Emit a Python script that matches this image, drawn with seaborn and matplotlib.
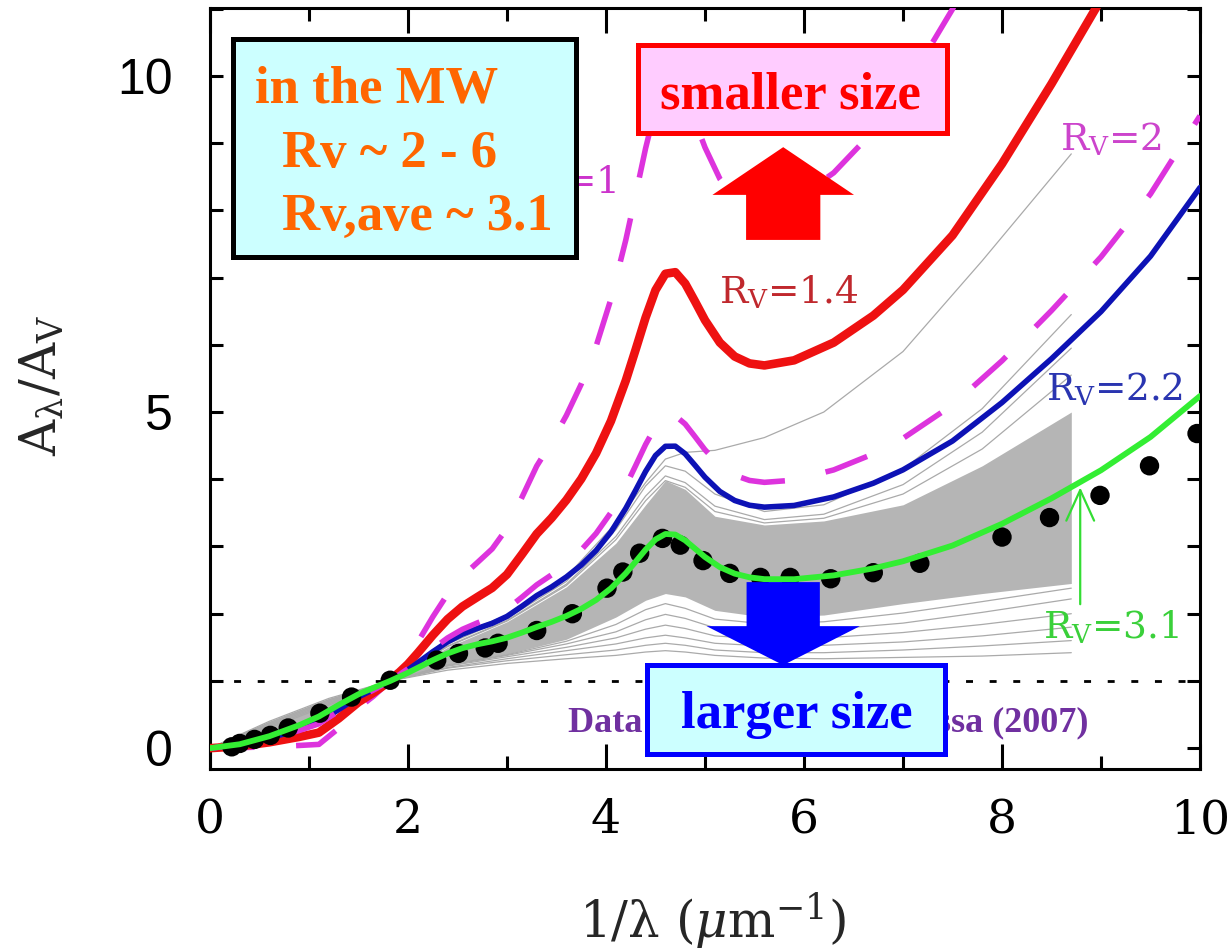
import matplotlib
matplotlib.use("Agg")
import matplotlib.pyplot as plt
import seaborn as sns
from matplotlib.patches import Rectangle, FancyArrow, FancyArrowPatch
from matplotlib.ticker import MultipleLocator, FixedLocator

# ---------------- data ----------------
inv_lambda = [0, 0.3, 0.6, 0.9, 1.1, 1.3, 1.5, 1.65, 1.82, 2.0, 2.1, 2.25, 2.4, 2.55,
              2.7, 2.85, 3.0, 3.15, 3.3, 3.45, 3.6, 3.75, 3.9, 4.05, 4.2, 4.3, 4.4,
              4.5, 4.6, 4.7, 4.8, 4.9, 5.0, 5.15, 5.3, 5.45, 5.6, 5.9, 6.3, 6.7, 7.0,
              7.5, 8.0, 8.5, 9.0, 9.5, 10.0]

rv31 = [0, 0.058, 0.178, 0.341, 0.471, 0.643, 0.802, 0.897, 1.0, 1.122, 1.196, 1.308,
        1.409, 1.488, 1.545, 1.589, 1.643, 1.719, 1.802, 1.878, 1.966, 2.072, 2.205,
        2.378, 2.601, 2.775, 2.953, 3.104, 3.186, 3.177, 3.091, 2.967, 2.843, 2.693,
        2.596, 2.541, 2.514, 2.513, 2.570, 2.674, 2.780, 3.014, 3.337, 3.716, 4.134,
        4.629, 5.238]
rv22 = [0, 0.048, 0.147, 0.282, 0.391, 0.575, 0.762, 0.872, 1.0, 1.166, 1.271, 1.434,
        1.581, 1.697, 1.781, 1.857, 1.960, 2.110, 2.269, 2.398, 2.547, 2.723, 2.940,
        3.216, 3.567, 3.838, 4.116, 4.353, 4.490, 4.492, 4.378, 4.206, 4.030, 3.818,
        3.684, 3.613, 3.585, 3.610, 3.737, 3.941, 4.140, 4.569, 5.141, 5.793, 6.494,
        7.318, 8.339]
rv20 = [0, 0.045, 0.137, 0.262, 0.363, 0.552, 0.748, 0.864, 1.0, 1.181, 1.297, 1.477,
        1.640, 1.768, 1.863, 1.949, 2.069, 2.245, 2.429, 2.578, 2.747, 2.948, 3.194,
        3.505, 3.900, 4.205, 4.517, 4.784, 4.940, 4.945, 4.821, 4.632, 4.438, 4.206,
        4.059, 3.982, 3.954, 3.987, 4.139, 4.377, 4.608, 5.104, 5.762, 6.509, 7.307,
        8.244, 9.407]
rv14 = [0, 0.028, 0.087, 0.167, 0.231, 0.442, 0.684, 0.825, 1.0, 1.251, 1.418, 1.680,
        1.919, 2.107, 2.247, 2.384, 2.584, 2.881, 3.187, 3.423, 3.691, 4.005, 4.387,
        4.866, 5.468, 5.931, 6.405, 6.813, 7.057, 7.080, 6.911, 6.643, 6.366, 6.033,
        5.826, 5.723, 5.693, 5.769, 6.033, 6.434, 6.817, 7.628, 8.692, 9.882, 11.138,
        12.609, 14.442]
rv10 = [0, 0.007, 0.021, 0.040, 0.056, 0.296, 0.598, 0.772, 1.0, 1.345, 1.580, 1.952,
        2.292, 2.558, 2.760, 2.964, 3.270, 3.728, 4.196, 4.550, 4.950, 5.416, 5.979,
        6.681, 7.559, 8.234, 8.923, 9.519, 9.881, 9.927, 9.697, 9.325, 8.936, 8.469,
        8.181, 8.044, 8.012, 8.143, 8.559, 9.176, 9.762, 10.993, 12.598, 14.379,
        16.247, 18.43, 21.155]

# Fitzpatrick & Massa (2007) average points
fm_x = [0.22, 0.30, 0.45, 0.61, 0.79, 1.11, 1.43, 1.82, 2.29, 2.51, 2.78, 2.91, 3.30,
        3.66, 4.01, 4.17, 4.34, 4.57, 4.75, 4.98, 5.25, 5.56, 5.86, 6.27, 6.70, 7.17,
        8.0, 8.48, 8.99, 9.49, 9.97]
fm_y = [0.02, 0.07, 0.13, 0.19, 0.30, 0.52, 0.76, 1.01, 1.31, 1.41, 1.49, 1.56, 1.75,
        2.0, 2.38, 2.62, 2.9, 3.12, 3.02, 2.79, 2.6, 2.54, 2.54, 2.52, 2.61, 2.75,
        3.14, 3.43, 3.76, 4.2, 4.68]

# individual sight lines (grey band)
gx = [0, 0.6, 1.2, 1.82, 2.4, 3.0, 3.6, 4.1, 4.4, 4.6, 4.8, 5.1, 5.6, 6.2, 7.0, 7.8, 8.7]
band_hi = [0, 0.40, 0.74, 1.0, 1.50, 1.88, 2.40, 3.05, 3.62, 3.98, 3.85, 3.45, 3.32,
           3.38, 3.62, 4.20, 5.00]
band_lo = [0, 0.17, 0.50, 1.0, 1.25, 1.40, 1.62, 1.95, 2.20, 2.30, 2.25, 2.05, 1.95,
           1.98, 2.15, 2.30, 2.45]
line_s1 = [0, 0.40, 0.74, 1.0, 1.16, 1.26, 1.33, 1.38, 1.43, 1.45, 1.43, 1.38, 1.34, 1.33, 1.35, 1.37, 1.42]
line_s2 = [0, 0.38, 0.72, 1.0, 1.19, 1.30, 1.39, 1.46, 1.53, 1.56, 1.53, 1.46, 1.42, 1.42, 1.46, 1.52, 1.60]
line_s3 = [0, 0.36, 0.70, 1.0, 1.20, 1.33, 1.45, 1.55, 1.64, 1.68, 1.64, 1.56, 1.52, 1.53, 1.58, 1.67, 1.80]
line_s4 = [0, 0.34, 0.68, 1.0, 1.22, 1.36, 1.50, 1.64, 1.77, 1.83, 1.78, 1.67, 1.62, 1.64, 1.72, 1.84, 2.00]
line_s5 = [0, 0.32, 0.66, 1.0, 1.23, 1.38, 1.55, 1.73, 1.91, 1.99, 1.93, 1.79, 1.73, 1.76, 1.86, 2.02, 2.22]
line_s6 = [0, 0.30, 0.64, 1.0, 1.24, 1.39, 1.59, 1.84, 2.06, 2.15, 2.08, 1.92, 1.85, 1.88, 2.01, 2.18, 2.38]
line_u1 = [0, 0.12, 0.45, 1.0, 1.62, 1.98, 2.55, 3.35, 3.95, 4.30, 4.40, 4.43, 4.62, 5.00, 5.90, 7.25, 8.84]
line_u2 = [0, 0.15, 0.52, 1.0, 1.55, 1.93, 2.48, 3.25, 3.90, 4.20, 4.12, 3.78, 3.52, 3.62, 4.15, 5.05, 6.45]
line_u3 = [0, 0.16, 0.55, 1.0, 1.52, 1.90, 2.44, 3.15, 3.75, 4.05, 3.95, 3.60, 3.40, 3.48, 3.92, 4.70, 5.95]
line_u4 = [0, 0.17, 0.57, 1.0, 1.51, 1.89, 2.42, 3.10, 3.68, 3.98, 3.88, 3.52, 3.35, 3.42, 3.78, 4.45, 5.55]

x_ticks = [0, 2, 4, 6, 8, 10]
y_ticks = [0, 5, 10]

# ---------------- style ----------------
sns.set_style("ticks")
plt.rcParams["font.family"] = ["DejaVu Serif"]
plt.rcParams["mathtext.fontset"] = "dejavuserif"

fig = plt.figure(figsize=(12.3, 9.52), dpi=100)
ax = fig.add_axes([0.17073, 0.19223, 0.80488, 0.79937])

# grey band
ax.fill_between(gx, band_lo, band_hi, color="#b5b5b5", lw=0, zorder=1)
for yy in [line_s1, line_s2, line_s3, line_s4, line_s5, line_s6,
           line_u1, line_u2, line_u3, line_u4]:
    sns.lineplot(x=gx, y=yy, ax=ax, color="#aaaaaa", lw=0.9, zorder=1.5,
                 estimator=None, sort=False)

ax.axhline(1.0, color="black", lw=2.0, ls=(0, (2.5, 6.0)), zorder=2)

dash = (0, (8.0, 7.5))
sns.lineplot(x=inv_lambda, y=rv10, ax=ax, color="#dd33dd", lw=4.0, ls=dash, zorder=3,
             estimator=None, sort=False)
sns.lineplot(x=inv_lambda, y=rv20, ax=ax, color="#dd33dd", lw=4.0, ls=dash, zorder=3.2,
             estimator=None, sort=False)
sns.lineplot(x=inv_lambda, y=rv14, ax=ax, color="#ee1111", lw=6.2, zorder=3.1,
             estimator=None, sort=False)
sns.lineplot(x=inv_lambda, y=rv22, ax=ax, color="#0d12b5", lw=4.0, zorder=3.1,
             estimator=None, sort=False)
sns.scatterplot(x=fm_x, y=fm_y, ax=ax, color="black", s=195, edgecolor="none", zorder=4)
sns.lineplot(x=inv_lambda, y=rv31, ax=ax, color="#33ee33", lw=4.2, zorder=5,
             estimator=None, sort=False)

# axes
ax.set_xlim(0, 10)
ax.set_ylim(-0.31, 11.01)
ax.xaxis.set_major_locator(FixedLocator(x_ticks))
ax.yaxis.set_major_locator(FixedLocator(y_ticks))
ax.xaxis.set_minor_locator(MultipleLocator(1))
ax.yaxis.set_minor_locator(MultipleLocator(1))
ax.set_xticklabels([str(v) for v in x_ticks])
ax.set_yticklabels([str(v) for v in y_ticks])
ax.tick_params(axis="both", which="both", direction="in", top=True, right=True,
               width=2.2, colors="black")
ax.tick_params(axis="x", which="major", length=18, pad=21, labelsize=34)
ax.tick_params(axis="x", which="minor", length=9.5)
ax.tick_params(axis="y", which="both", length=9.5)
ax.tick_params(axis="y", which="major", pad=27, labelsize=36)
for lbl in ax.get_yticklabels():
    lbl.set_fontfamily("Liberation Sans")
for sp in ax.spines.values():
    sp.set_linewidth(2.2)
    sp.set_color("black")
ax.set_xlabel("")
ax.set_ylabel("")

fig.text(712 / 1230, 1 - 921 / 952, r"1/$\mathrm{\lambda}$ ($\mu$m$^{-1}$)", fontsize=36,
         ha="center", va="center")
fig.text(42 / 1230, 1 - 385 / 952, r"A$_\mathrm{\lambda}$/A$_{\rm V}$", fontsize=36,
         rotation=90, ha="center", va="center")

# curve labels
ax.text(4.11, 8.26, r"R$_{\rm V}$=1", color="#cc33cc", fontsize=27, ha="right",
        va="baseline", zorder=6)
ax.text(5.14, 6.62, r"R$_{\rm V}$=1.4", color="#c0282d", fontsize=27, va="baseline", zorder=6)
ax.text(8.44, 5.18, r"R$_{\rm V}$=2.2", color="#2a35b0", fontsize=27, va="baseline", zorder=6)
ax.text(8.59, 8.90, r"R$_{\rm V}$=2", color="#cc44cc", fontsize=27, va="baseline", zorder=6)
ax.text(8.41, 1.64, r"R$_{\rm V}$=3.1", color="#3ad03a", fontsize=27, va="baseline", zorder=6)
ax.add_patch(FancyArrowPatch((8.79, 2.10), (8.79, 3.92), arrowstyle="->,head_length=1.1,head_width=0.5",
                             mutation_scale=20, color="#33dd33", lw=1.6, zorder=6))

# data source text (partly hidden behind the "larger size" box, as in the reference)
ax.text(3.62, 0.24, "Data: Fitzpatrick & Massa (2007)", color="#7030a0", fontsize=26,
        family="Liberation Serif", weight="bold", va="baseline", zorder=6)

# arrows
ax.add_patch(FancyArrow(5.79, 7.56, 0, 1.38, width=0.75, head_width=1.43, head_length=0.71,
                        length_includes_head=True, color="#ff0000", lw=0, zorder=8))
ax.add_patch(FancyArrow(5.79, 2.47, 0, -1.235, width=0.74, head_width=1.55, head_length=0.58,
                        length_includes_head=True, color="#0000ff", lw=0, zorder=8))

# boxes
ax.add_patch(Rectangle((0.23, 7.31), 3.47, 3.24, fc="#ccffff", ec="black", lw=3.6, zorder=10))
ax.add_patch(Rectangle((4.32, 9.15), 3.12, 1.31, fc="#ffccff", ec="#ff0000", lw=3.6, zorder=10))
ax.add_patch(Rectangle((4.41, -0.09), 3.01, 1.325, fc="#ccffff", ec="#0000ff", lw=3.6, zorder=10))

box_font = dict(family="Liberation Serif", weight="bold", fontsize=38, zorder=11,
                va="baseline")
ax.text(0.455, 9.61, "in the MW", color="#ff6600", **box_font)
ax.text(0.73, 8.65, "Rv ~ 2 - 6", color="#ff6600", **box_font)
ax.text(0.73, 7.71, "Rv,ave ~ 3.1", color="#ff6600", **box_font)
ax.text(5.86, 9.52, "smaller size", color="#ff0000", ha="center", **box_font)
ax.text(5.93, 0.30, "larger size", color="#0000ff", ha="center", **box_font)

fig.savefig("out.png", dpi=100)
